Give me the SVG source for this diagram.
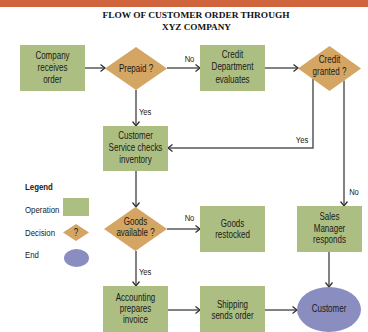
<svg xmlns="http://www.w3.org/2000/svg" width="368" height="332" viewBox="0 0 368 332">
  <style>
    .op { fill: #adbe82; }
    .dec { fill: #d4a563; }
    .end { fill: #8a8dc0; }
    /* narrow sans: Liberation Sans squeezed horizontally by each text's transform */
    .t { font-family: "Liberation Sans", Arial, sans-serif; font-size: 10px; fill: #1a1a1a; text-anchor: middle; }
    .lbl { font-family: "Liberation Sans", Arial, sans-serif; font-size: 9.5px; fill: #1a1a1a; }
    .leg { font-family: "Liberation Sans", Arial, sans-serif; font-size: 9.8px; fill: #1a1a1a; }
    .title { font-family: "Liberation Serif", "Times New Roman", serif; font-weight: bold; font-size: 8.5px; fill: #111; text-anchor: middle; }
    .wire { fill: none; stroke: #585858; stroke-width: 1.5; marker-end: url(#arrow); }
  </style>
  <defs>
    <marker id="arrow" markerUnits="userSpaceOnUse" markerWidth="8" markerHeight="9" refX="6" refY="4.5" orient="auto">
      <path d="M1.5,1 L6,4.5 L1.5,8" fill="none" stroke="#333" stroke-width="1.3"/>
    </marker>
  </defs>

  <!-- header band and title -->
  <rect x="0" y="0" width="368" height="7" fill="#d0643c"/>
  <text class="title" x="196" y="18" textLength="187" lengthAdjust="spacingAndGlyphs">FLOW OF CUSTOMER ORDER THROUGH</text>
  <text class="title" x="196.5" y="29.5" textLength="69" lengthAdjust="spacingAndGlyphs">XYZ COMPANY</text>

  <!-- connectors -->
  <g id="connectors">
    <path class="wire" d="M85,68 H105"/>
    <path class="wire" d="M167,68 H200"/>
    <path class="wire" d="M265,68 H298"/>
    <path class="wire" d="M136,90 V126"/>
    <path class="wire" d="M313,79 V148 H168"/>
    <path class="wire" d="M344,80.5 V206"/>
    <path class="wire" d="M136,171 V207"/>
    <path class="wire" d="M167,229 H200"/>
    <path class="wire" d="M136,251 V286"/>
    <path class="wire" d="M168,310 H200"/>
    <path class="wire" d="M265,310 H297"/>
    <path class="wire" d="M329,252 V287"/>
    <text class="lbl" text-anchor="middle" transform="translate(189.5 61.5) scale(0.8 1)">No</text>
    <text class="lbl" transform="translate(139 114.5) scale(0.8 1)">Yes</text>
    <text class="lbl" text-anchor="middle" transform="translate(302 142.5) scale(0.8 1)">Yes</text>
    <text class="lbl" text-anchor="middle" transform="translate(354 194.5) scale(0.8 1)">No</text>
    <text class="lbl" text-anchor="middle" transform="translate(189.5 220.5) scale(0.8 1)">No</text>
    <text class="lbl" transform="translate(139 274.5) scale(0.8 1)">Yes</text>
  </g>

  <!-- nodes -->
  <g id="company-receives-order">
    <rect class="op" x="20" y="45" width="65" height="46"/>
    <text class="t" transform="translate(52.5 58.5) scale(0.8 1)">Company</text>
    <text class="t" transform="translate(52.5 70.5) scale(0.8 1)">receives</text>
    <text class="t" transform="translate(52.5 82.5) scale(0.8 1)">order</text>
  </g>
  <g id="prepaid">
    <polygon class="dec" points="105,68.5 136,47 167,68.5 136,90"/>
    <text class="t" transform="translate(136 71.5) scale(0.8 1)">Prepaid ?</text>
  </g>
  <g id="credit-department">
    <rect class="op" x="200" y="45" width="65" height="46"/>
    <text class="t" transform="translate(232.5 57.5) scale(0.8 1)">Credit</text>
    <text class="t" transform="translate(232.5 70) scale(0.8 1)">Department</text>
    <text class="t" transform="translate(232.5 82.5) scale(0.8 1)">evaluates</text>
  </g>
  <g id="credit-granted">
    <polygon class="dec" points="298,68.5 329.5,46 361,68.5 329.5,91"/>
    <text class="t" transform="translate(329.5 62.5) scale(0.8 1)">Credit</text>
    <text class="t" transform="translate(329.5 74.5) scale(0.8 1)">granted ?</text>
  </g>
  <g id="customer-service">
    <rect class="op" x="103" y="126" width="65" height="45"/>
    <text class="t" transform="translate(135.5 138.5) scale(0.8 1)">Customer</text>
    <text class="t" transform="translate(135.5 151) scale(0.8 1)">Service checks</text>
    <text class="t" transform="translate(135.5 162.5) scale(0.8 1)">inventory</text>
  </g>
  <g id="goods-available">
    <polygon class="dec" points="104,229 135.5,207 167,229 135.5,251"/>
    <text class="t" transform="translate(135.5 224.5) scale(0.8 1)">Goods</text>
    <text class="t" transform="translate(135.5 235.5) scale(0.8 1)">available ?</text>
  </g>
  <g id="goods-restocked">
    <rect class="op" x="200" y="206" width="65" height="46"/>
    <text class="t" transform="translate(232.5 226.5) scale(0.8 1)">Goods</text>
    <text class="t" transform="translate(232.5 237.5) scale(0.8 1)">restocked</text>
  </g>
  <g id="sales-manager">
    <rect class="op" x="297" y="206" width="65" height="46"/>
    <text class="t" transform="translate(329.5 219.5) scale(0.8 1)">Sales</text>
    <text class="t" transform="translate(329.5 231.5) scale(0.8 1)">Manager</text>
    <text class="t" transform="translate(329.5 242.5) scale(0.8 1)">responds</text>
  </g>
  <g id="accounting">
    <rect class="op" x="103" y="286" width="65" height="50"/>
    <text class="t" transform="translate(135.5 300.5) scale(0.8 1)">Accounting</text>
    <text class="t" transform="translate(135.5 311.5) scale(0.8 1)">prepares</text>
    <text class="t" transform="translate(135.5 322.5) scale(0.8 1)">invoice</text>
  </g>
  <g id="shipping">
    <rect class="op" x="200" y="286" width="65" height="50"/>
    <text class="t" transform="translate(232.5 307.5) scale(0.8 1)">Shipping</text>
    <text class="t" transform="translate(232.5 318.5) scale(0.8 1)">sends order</text>
  </g>
  <g id="customer">
    <ellipse class="end" cx="329" cy="309.5" rx="32" ry="22.5"/>
    <text class="t" transform="translate(329 311.5) scale(0.8 1)">Customer</text>
  </g>

  <!-- legend -->
  <g id="legend">
    <text class="leg" font-weight="bold" font-size="10.5" transform="translate(25 190) scale(0.8 1)">Legend</text>
    <text class="leg" transform="translate(25 212.5) scale(0.8 1)">Operation</text>
    <rect class="op" x="63" y="198" width="26" height="18"/>
    <text class="leg" transform="translate(25 235.5) scale(0.8 1)">Decision</text>
    <polygon class="dec" points="63,232.5 76,224 89,232.5 76,241"/>
    <text class="t" transform="translate(76 236) scale(0.8 1)">?</text>
    <text class="leg" transform="translate(25 257.5) scale(0.8 1)">End</text>
    <ellipse class="end" cx="76.5" cy="258" rx="12.5" ry="9"/>
  </g>
</svg>
